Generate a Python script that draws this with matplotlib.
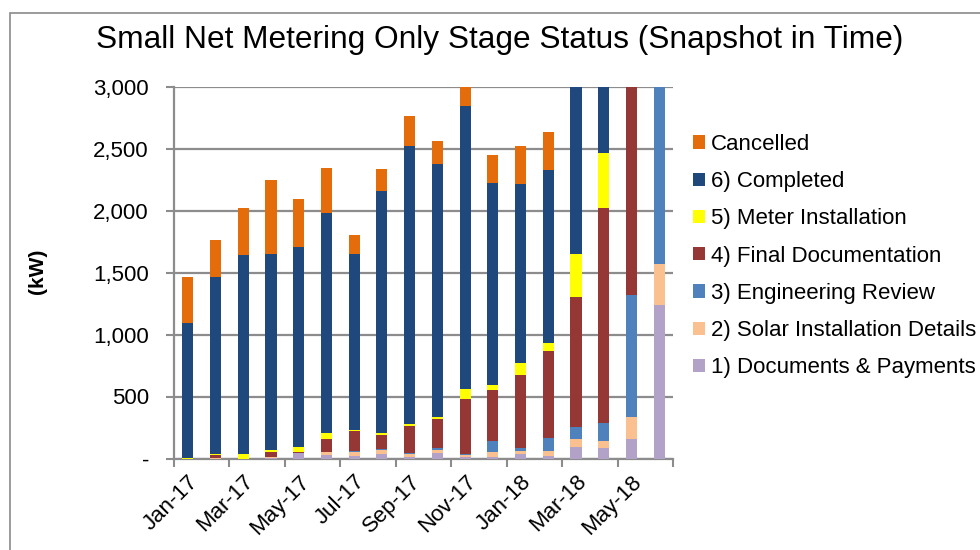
import matplotlib
matplotlib.use("Agg")
import matplotlib.pyplot as plt
import numpy as np
from matplotlib.patches import Rectangle, Patch

plt.rcParams['font.family'] = ['Liberation Sans', 'DejaVu Sans']

months = ["Jan-17", "Feb-17", "Mar-17", "Apr-17", "May-17", "Jun-17", "Jul-17", "Aug-17",
          "Sep-17", "Oct-17", "Nov-17", "Dec-17", "Jan-18", "Feb-18", "Mar-18", "Apr-18",
          "May-18", "Jun-18"]

docs_payments = [0, 0, 0, 5, 42, 28, 22, 40, 10, 47, 16, 15, 36, 22, 95, 82, 155, 1238]
solar_install = [0, 5, 0, 5, 0, 22, 32, 27, 27, 22, 16, 40, 27, 38, 62, 62, 182, 333]
eng_review = [0, 0, 0, 0, 0, 0, 10, 13, 4, 13, 4, 86, 19, 102, 94, 145, 982, 1500]
final_docs = [0, 20, 0, 45, 8, 107, 155, 107, 223, 237, 444, 411, 591, 707, 1051, 1729, 1800, 0]
meter_install = [5, 8, 35, 14, 45, 46, 12, 22, 14, 18, 80, 40, 97, 65, 345, 446, 0, 0]
completed = [1085, 1433, 1606, 1583, 1611, 1780, 1416, 1951, 2245, 2041, 2280, 1632, 1441, 1390, 1500, 700, 0, 0]
cancelled = [371, 296, 377, 594, 387, 357, 155, 172, 242, 185, 200, 223, 309, 307, 300, 300, 0, 0]

series = [
    ("1) Documents & Payments", docs_payments, "#B3A2C7"),
    ("2) Solar Installation Details", solar_install, "#FAC090"),
    ("3) Engineering Review", eng_review, "#4F81BD"),
    ("4) Final Documentation", final_docs, "#953735"),
    ("5) Meter Installation", meter_install, "#FFFF00"),
    ("6) Completed", completed, "#1F497D"),
    ("Cancelled", cancelled, "#E46C0A"),
]

W, H = 980, 550
fig = plt.figure(figsize=(W / 100, H / 100), dpi=100)
ax = fig.add_axes([174 / W, 1 - 458.5 / H, (673 - 174) / W, (458.5 - 86.5) / H])

x = np.arange(len(months))
bottom = np.zeros(len(months))
handles = []
for name, vals, col in series:
    v = np.array(vals, dtype=float)
    ax.bar(x, v, bottom=bottom, width=0.4, color=col, edgecolor='none', zorder=3)
    bottom += v
    handles.append(Patch(facecolor=col, edgecolor='none', label=name))

ax.set_xlim(-0.5, len(months) - 0.5)
ax.set_ylim(0, 3000)

gray = '#8c8c8c'
ax.set_yticks(np.arange(0, 3001, 500))
ax.set_yticklabels(['-'] + [f"{v:,}" for v in range(500, 3001, 500)], fontsize=16)
ax.yaxis.grid(True, color=gray, linewidth=1.6, zorder=0)
ax.set_axisbelow(True)

ax.set_xticks(np.arange(-0.5, len(months), 2))
ax.set_xticklabels([])
ax.set_xticks(x[::2], minor=True)
ax.set_xticklabels(months[::2], minor=True, rotation=45, ha='right',
                   rotation_mode='anchor', fontsize=16)
ax.tick_params(axis='x', which='major', length=6, color=gray, width=1.5, direction='out')
ax.tick_params(axis='x', which='minor', length=0, pad=9)
ax.tick_params(axis='y', length=6, color=gray, width=1.5, pad=12)

for s in ['top', 'right']:
    ax.spines[s].set_visible(False)
for s in ['left', 'bottom']:
    ax.spines[s].set_color(gray)
    ax.spines[s].set_linewidth(1.6)

fig.text(37 / W, 1 - 271 / H, "(kW)", rotation=90, fontsize=15, fontweight='bold',
         ha='center', va='center')

fig.text(500 / W, 1 - 40 / H, "Small Net Metering Only Stage Status (Snapshot in Time)",
         fontsize=22.8, ha='center', va='center')

fig.legend(handles=handles[::-1], loc='upper left', bbox_to_anchor=(693 / W, 1 - 134 / H),
           frameon=False, fontsize=16, handlelength=0.55, handleheight=0.55,
           handletextpad=0.25, labelspacing=0.73, borderpad=0, borderaxespad=0)

top_frac = 1 - 13 / H
fig.add_artist(Rectangle((10 / W, -0.1), 1.2, top_frac + 0.1,
                         transform=fig.transFigure, fill=False, edgecolor='#8a8a8a',
                         linewidth=1.2))

fig.savefig("out.png", dpi=100)
